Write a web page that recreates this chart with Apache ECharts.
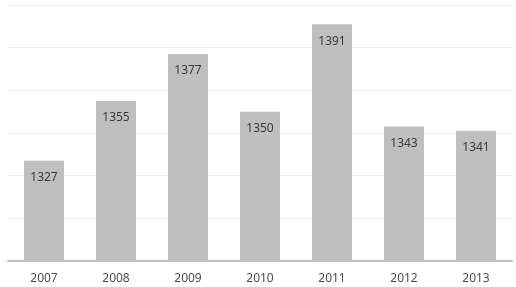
<!DOCTYPE html>
<html><head><meta charset="utf-8">
<script src="https://cdn.jsdelivr.net/npm/echarts@6/dist/echarts.min.js"></script>
<style>html,body{margin:0;padding:0;background:#fff}#c{width:516px;height:287px}</style>
</head><body><div id="c"></div>
<script>
const categories = ['2007','2008','2009','2010','2011','2012','2013'];
const values = [1327,1355,1377,1350,1391,1343,1341];
const chart = echarts.init(document.getElementById('c'), null, {renderer:'canvas'});
chart.setOption({
  animation:false,
  grid:{left:8,right:4,top:5,bottom:26,containLabel:false},
  xAxis:{type:'category',data:categories,
    axisLine:{lineStyle:{color:'#bfbfbf',width:2}},
    axisTick:{show:false},
    axisLabel:{color:'#4d4d4d',fontFamily:'Noto Sans',fontSize:12,margin:12}},
  yAxis:{type:'value',min:1280,max:1400,interval:20,
    axisLabel:{show:false},axisLine:{show:false},axisTick:{show:false},
    splitLine:{lineStyle:{color:'#ececec',width:1}}},
  series:[{type:'bar',data:values,barWidth:40,
    itemStyle:{color:'#bfbfbf'},
    label:{show:true,position:'insideTop',distance:11,color:'#3a3a3a',fontFamily:'Noto Sans',fontSize:12}}]
});
</script></body></html>
